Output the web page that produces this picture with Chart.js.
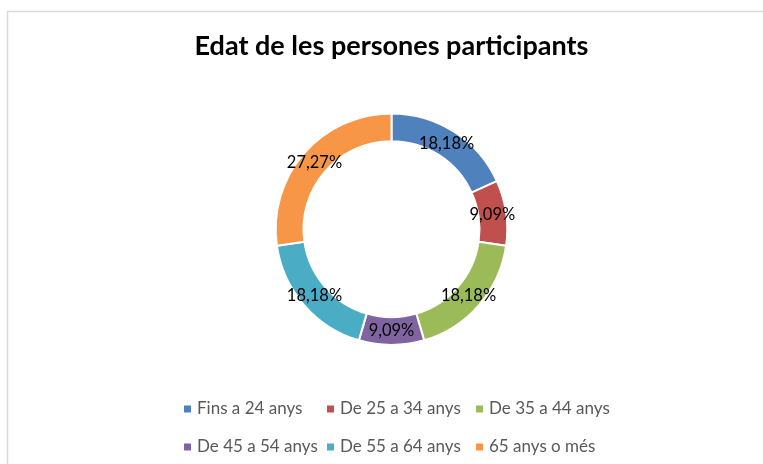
<!DOCTYPE html>
<html>
<head>
<meta charset="utf-8">
<script src="https://cdn.jsdelivr.net/npm/chart.js@4"></script>
<style>
  html, body { margin: 0; padding: 0; background: #fff; }
  #wrap { width: 763px; height: 464px; }
</style>
</head>
<body>
<div id="wrap"><canvas id="edatChart" width="763" height="464"></canvas></div>
<script>
const labels = ['Fins a 24 anys', 'De 25 a 34 anys', 'De 35 a 44 anys',
                'De 45 a 54 anys', 'De 55 a 64 anys', '65 anys o més'];
const percentages = [18.18, 9.09, 18.18, 9.09, 18.18, 27.27];
const colors = ['#4F81BD', '#C0504D', '#9BBB59', '#8064A2', '#4BACC6', '#F79646'];

// frame lines like the spreadsheet chart box
const framePlugin = {
  id: 'frame',
  beforeDraw(chart) {
    const ctx = chart.ctx;
    ctx.save();
    ctx.strokeStyle = '#d9d9d9';
    ctx.lineWidth = 1.5;
    ctx.beginPath();
    ctx.moveTo(7.5, chart.height);
    ctx.lineTo(7.5, 11.5);
    ctx.lineTo(chart.width, 11.5);
    ctx.stroke();
    ctx.restore();
  }
};

// percentage labels in the middle of each ring segment
const sliceLabels = {
  id: 'sliceLabels',
  afterDatasetsDraw(chart) {
    const ctx = chart.ctx;
    const meta = chart.getDatasetMeta(0);
    ctx.save();
    ctx.font = '16.5px Lato';
    ctx.fillStyle = '#000';
    ctx.textAlign = 'center';
    ctx.textBaseline = 'middle';
    meta.data.forEach((arc, i) => {
      const p = arc.tooltipPosition();
      ctx.fillText(percentages[i].toFixed(2).replace('.', ',') + '%', p.x, p.y);
    });
    ctx.restore();
  }
};

// two-row legend laid out in columns
const gridLegend = {
  id: 'gridLegend',
  afterDraw(chart) {
    const ctx = chart.ctx;
    const cols = [184, 327, 476];
    const rows = [409, 447];
    ctx.save();
    ctx.font = '17px Lato';
    ctx.textBaseline = 'middle';
    labels.forEach((lab, i) => {
      const x = cols[i % 3], y = rows[Math.floor(i / 3)];
      ctx.fillStyle = colors[i];
      ctx.fillRect(x, y - 3.5, 7, 7);
      ctx.fillStyle = '#595959';
      ctx.fillText(lab, x + 13, y);
    });
    ctx.restore();
  }
};

new Chart(document.getElementById('edatChart'), {
  type: 'doughnut',
  data: {
    labels: labels,
    datasets: [{
      data: percentages,
      backgroundColor: colors,
      borderColor: '#fff',
      borderWidth: 2
    }]
  },
  options: {
    responsive: false,
    animation: false,
    cutout: '76%',
    layout: { padding: { left: 20, right: 0, top: 0, bottom: 118 } },
    plugins: {
      legend: { display: false },
      tooltip: { enabled: false },
      title: {
        display: true,
        text: 'Edat de les persones participants',
        color: '#000',
        font: { family: 'Lato', size: 27, weight: 'bold', lineHeight: 1.2 },
        padding: { top: 30, bottom: 50 }
      }
    }
  },
  plugins: [framePlugin, sliceLabels, gridLegend]
});
</script>
</body>
</html>
